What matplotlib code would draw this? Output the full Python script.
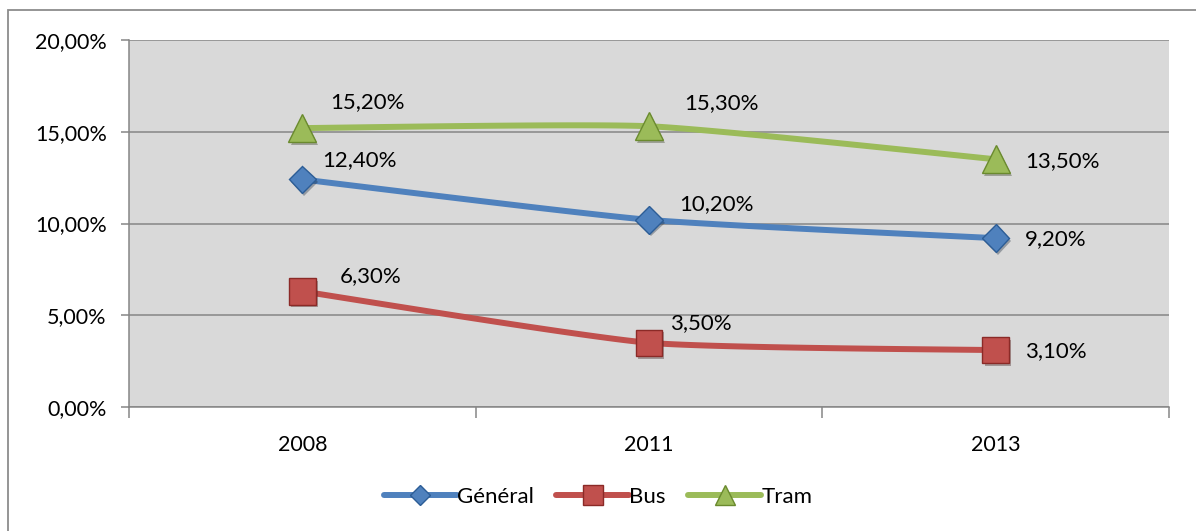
import numpy as np
import matplotlib.pyplot as plt
from matplotlib.patches import Rectangle
import matplotlib.patheffects as pe

# Data
years = ["2008", "2011", "2013"]
general = [12.4, 10.2, 9.2]
bus = [6.3, 3.5, 3.1]
tram = [15.2, 15.3, 13.5]
y_ticks = [0, 5, 10, 15, 20]

plt.rcParams['font.family'] = ['Lato', 'DejaVu Sans']


def smooth(xs, ys, n=40, k=0.55):
    """Bezier smoothing close to Excel's smoothed lines (reduced tension)"""
    xs = np.asarray(xs, float)
    ys = np.asarray(ys, float)
    px = np.concatenate([[xs[0]], xs, [xs[-1]]])
    py = np.concatenate([[ys[0]], ys, [ys[-1]]])
    out_x, out_y = [], []
    for i in range(1, len(px) - 2):
        t = np.linspace(0, 1, n)
        p0, p1, p2, p3 = [np.array([px[j], py[j]]) for j in range(i - 1, i + 3)]
        c1 = p1 + k * (p2 - p0) / 6
        c2 = p2 - k * (p3 - p1) / 6
        b = (((1 - t) ** 3)[:, None] * p1 + (3 * (1 - t) ** 2 * t)[:, None] * c1
             + (3 * (1 - t) * t ** 2)[:, None] * c2 + (t ** 3)[:, None] * p2)
        out_x.extend(b[:, 0])
        out_y.extend(b[:, 1])
    return out_x, out_y


fig = plt.figure(figsize=(11.96, 5.31), dpi=100)
ax = fig.add_axes([129 / 1196, 1 - 407 / 531, 1040 / 1196, 367 / 531])
ax.set_facecolor('#D9D9D9')

# outer chart border (cut off at right and bottom)
fig.add_artist(Rectangle((8 / 1196, -0.05), 1.1, 1.05 - 10 / 531,
                         transform=fig.transFigure, fill=False,
                         edgecolor='#8C8C8C', lw=1.3, zorder=0))

x = np.arange(len(years))
series = [
    ("Général", general, '#4F81BD', '#2C5D96', 'D', 14),
    ("Bus", bus, '#C0504D', '#8B2A27', 's', 19),
    ("Tram", tram, '#9BBB59', '#6A8A2E', '^', 20),
]
shadow = [pe.SimplePatchShadow(offset=(1.5, -2), alpha=0.35), pe.Normal()]

for name, vals, col, edge, mk, ms in series:
    sx, sy = smooth(x, vals)
    ax.plot(sx, sy, color=col, lw=4.3, solid_capstyle='round', zorder=3)
    ax.plot(x, vals, linestyle='none', marker=mk, markersize=ms,
            markerfacecolor=col, markeredgecolor=edge, markeredgewidth=1.0,
            zorder=4, path_effects=shadow)
    # legend proxy
    ax.plot([], [], color=col, lw=4.3, solid_capstyle='round', marker=mk,
            markersize=ms * 0.75, markerfacecolor=col, markeredgecolor=edge,
            label=name)


def fmt(v):
    return f"{v:.2f}".replace('.', ',') + "%"


# data labels (offsets in points)
offsets = {
    "Général": [(14, 14), (22, 11), (21, -1)],
    "Bus": [(27, 11), (15, 14), (21, -1)],
    "Tram": [(20, 19), (25, 17), (21, -1)],
}
for name, vals, col, edge, mk, ms in series:
    for i, v in enumerate(vals):
        ax.annotate(fmt(v), (x[i], v), xytext=offsets[name][i],
                    textcoords='offset points', ha='left', va='center',
                    fontsize=16, color='black', zorder=5)

ax.set_xlim(-0.5, 2.5)
ax.set_ylim(0, 20)
ax.set_yticks(y_ticks)
ax.set_yticklabels([f"{t:.2f}".replace('.', ',') + "%" for t in y_ticks])
ax.yaxis.grid(True, color='#868686', lw=1.1)
ax.set_axisbelow(True)

ax.set_xticks(x)
ax.set_xticklabels(years)
ax.set_xticks([-0.5, 0.5, 1.5, 2.5], minor=True)
ax.tick_params(axis='x', which='major', length=0, pad=20, labelsize=15.5)
ax.tick_params(axis='x', which='minor', length=8, width=1.1, color='#868686')
ax.tick_params(axis='y', length=6, width=1.1, color='#868686', pad=10,
               labelsize=15.5)

for s in ['top', 'right']:
    ax.spines[s].set_visible(False)
for s in ['left', 'bottom']:
    ax.spines[s].set_color('#868686')
    ax.spines[s].set_linewidth(1.1)

leg = fig.legend(loc='center', bbox_to_anchor=(0.5, 1 - 497 / 531), ncol=3,
                 frameon=False, fontsize=16, handlelength=3.3,
                 columnspacing=1.0, handletextpad=0.0)

fig.savefig("out.png", dpi=100)
